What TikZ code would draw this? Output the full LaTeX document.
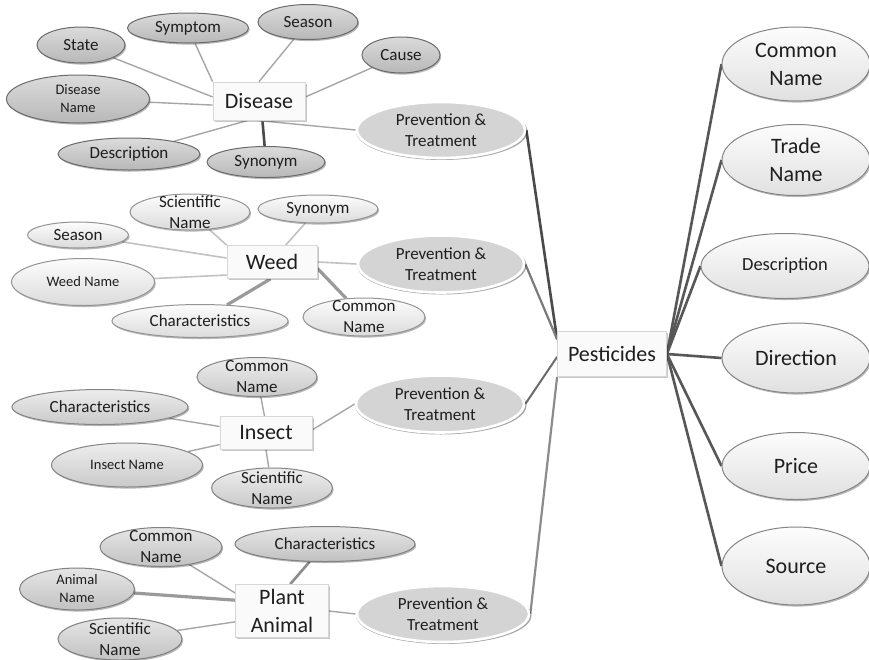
\documentclass[tikz,border=0pt]{standalone}
\usepackage{fontspec}
\setmainfont{Carlito}
\usetikzlibrary{shapes.geometric,shadows,backgrounds}

\definecolor{ink}{HTML}{1E1E1E}
\definecolor{boxline}{HTML}{D6D6D6}
\definecolor{ptfill}{HTML}{D4D4D4}
\definecolor{thin}{HTML}{A6A6A6}
\definecolor{mid}{HTML}{9A9A9A}
\definecolor{dark}{HTML}{4A4A4A}

% a filled ellipse of fixed size with its caption laid on top
\newcommand\bub[8]{%
  \node[#1,minimum width=#5,minimum height=#6] (#2) at (#3,#4) {};
  \node[txt,#7] (#2-t) at (#2) {#8};}

\begin{document}
\begin{tikzpicture}[x=1pt,y=-1pt,
  txt/.style={align=center,inner sep=0pt,text=ink},
  f14/.style={font=\fontsize{14.5}{18}\selectfont},
  f17/.style={font=\fontsize{17}{21}\selectfont},
  f18/.style={font=\fontsize{18.5}{23}\selectfont},
  f22/.style={font=\fontsize{22}{28}\selectfont},
  soft/.style={drop shadow={shadow xshift=1.2pt,shadow yshift=-1.6pt,opacity=.28,fill=black}},
  base/.style={ellipse,inner sep=0pt,line width=1pt,soft},
  dell/.style={base,top color=white!86!black,bottom color=white!72!black,draw=black!58},
  well/.style={base,top color=white!99!black,bottom color=white!86!black,draw=black!42},
  iell/.style={base,top color=white!93!black,bottom color=white!79!black,draw=black!48},
  pell/.style={base,top color=white!90!black,bottom color=white!76!black,draw=black!50},
  rell/.style={base,top color=white!99!black,bottom color=white!88!black,draw=black!48},
  ptell/.style={ellipse,inner sep=0pt,fill=ptfill,draw=white,line width=2.6pt,
    drop shadow={shadow xshift=0.8pt,shadow yshift=-1.4pt,opacity=.35,fill=black,shadow scale=1.02}},
  hub/.style={rectangle,fill=white!98!black,draw=boxline,line width=0.8pt,inner sep=0pt,
    text=ink,align=center,f22,
    drop shadow={shadow xshift=1.5pt,shadow yshift=-1.8pt,opacity=.22,fill=black}},
  lt/.style={draw=thin,line width=1.4pt},
  lw/.style={draw=black!24,line width=1.6pt},
  md/.style={draw=mid,line width=3.2pt},
  dk/.style={draw=dark,line width=2.6pt},
]
\useasboundingbox (0,0) rectangle (869,659);
\clip (0,0) rectangle (869,659);

% ---------- hubs ----------
\node[hub,minimum width=92,minimum height=38] (dis) at (259,101) {Disease};
\node[hub,minimum width=90,minimum height=33] (weed) at (272,262) {Weed};
\node[hub,minimum width=92,minimum height=33] (ins) at (266,433) {Insect};
\node[hub,minimum width=93,minimum height=53] (pla) at (282,611) {Plant\\Animal};
\node[hub,minimum width=109,minimum height=45] (pest) at (612,354) {Pesticides};

% ---------- disease attributes ----------
\bub{dell}{dstate}{81}{45}{88}{36}{f17}{State}
\bub{dell}{dsym}{188}{28}{121}{30}{f17}{Symptom}
\bub{dell}{dsea}{308}{22}{100}{35}{f17}{Season}
\bub{dell}{dcau}{401}{55}{78}{36}{f17}{Cause}
\bub{dell}{dname}{78}{99}{143}{48}{f14}{Disease\\Name}
\bub{dell}{ddesc}{129}{154}{142}{32}{f17}{Description}
\bub{dell}{dsyn}{266}{162}{118}{31}{f17}{Synonym}

% ---------- weed attributes ----------
\bub{well}{wsci}{190}{212}{120}{36}{f17}{Scientific\\Name}
\bub{well}{wsyn}{318}{209}{120}{28}{f17}{Synonym}
\bub{well}{wsea}{78}{235}{101}{26}{f17}{Season}
\bub{well}{wname}{83}{282}{143}{47}{f14}{Weed Name}
\bub{well}{wchar}{200}{321}{176}{33}{f17}{Characteristics}
\bub{well}{wcom}{364}{317}{122}{38}{f17}{Common\\Name}

% ---------- insect attributes ----------
\bub{iell}{icom}{257}{377}{120}{39}{f17}{Common\\Name}
\bub{iell}{ichar}{100}{407}{176}{35}{f17}{Characteristics}
\bub{iell}{iname}{127}{465}{151}{44}{f14}{Insect Name}
\bub{iell}{isci}{272}{488}{121}{40}{f17}{Scientific\\Name}

% ---------- plant / animal attributes ----------
\bub{pell}{pcom}{161}{547}{122}{39}{f17}{Common\\Name}
\bub{pell}{pchar}{325}{544}{180}{35}{f17}{Characteristics}
\bub{pell}{pname}{77}{589}{115}{42}{f14}{Animal\\Name}
\bub{pell}{psci}{120}{639}{124}{42}{f17}{Scientific\\Name}

% ---------- prevention & treatment ----------
\bub{ptell}{dpt}{441}{130}{168}{56}{f17}{Prevention \&\\Treatment}
\bub{ptell}{wpt}{441}{264}{166}{57}{f17}{Prevention \&\\Treatment}
\bub{ptell}{ipt}{440}{404}{168}{57}{f17}{Prevention \&\\Treatment}
\bub{ptell}{ppt}{443}{614}{172}{56}{f17}{Prevention \&\\Treatment}

% ---------- pesticide attributes ----------
\bub{rell}{rcom}{796}{64}{148}{74}{f22}{Common\\Name}
\bub{rell}{rtrade}{796}{160}{148}{71}{f22}{Trade\\Name}
\bub{rell}{rdesc}{785}{266}{168}{65}{f18}{Description}
\bub{rell}{rdir}{796}{358}{148}{70}{f22}{Direction}
\bub{rell}{rprice}{796}{466}{148}{67}{f22}{Price}
\bub{rell}{rsrc}{796}{566}{148}{78}{f22}{Source}

% ---------- connectors ----------
\begin{pgfonlayer}{background}
  \fill[white] (0,0) rectangle (869,659);
  % disease
  \draw[lt] (dstate) -- (dis.175);
  \draw[lt] (dname) -- (dis.185);
  \draw[lt] (dsym) -- (dis.north west);
  \draw[lt] (dsea) -- (dis.north);
  \draw[lt] (dcau) -- (dis.5);
  \draw[lt] (ddesc) -- (dis.240);
  \draw[dk] (dsyn) -- (dis.280);
  \draw[lt] (dis.265) -- (dpt.west);
  % weed
  \draw[lw] (wsci) -- (weed.north west);
  \draw[lw] (wsyn) -- (weed.51);
  \draw[lw] (wsea) -- (weed.175);
  \draw[lw] (wname) -- (weed.196);
  \draw[md] (wchar) -- (weed.265);
  \draw[md] (wcom) -- (weed.352);
  \draw[lw] (weed.east) -- (wpt.west);
  % insect
  \draw[lt] (icom) -- (ins.95);
  \draw[lt] (ichar) -- (ins.172);
  \draw[lt] (iname) -- (ins.194);
  \draw[lt] (isci) -- (ins.south);
  \draw[lt] (ins.4) -- (ipt.west);
  % plant / animal
  \draw[lt] (pcom) -- (pla.159);
  \draw[md] (pname) -- (pla.167);
  \draw[lt] (psci) -- (pla.193);
  \draw[draw=black!45,line width=2.6pt] (pchar) -- (pla.73);
  \draw[lt] (pla.east) -- (ppt.west);
  % into pesticides
  \draw[dk] (dpt.east) -- (pest.165);
  \draw[draw=black!52,line width=2.2pt] (wpt.east) -- (pest.165);
  \draw[draw=black!58,line width=2pt] (ipt.east) -- (pest.183);
  \draw[draw=black!45,line width=2.2pt] (ppt.east) -- (pest.south west);
  % out of pesticides
  \foreach \t in {rcom,rtrade,rdesc,rdir,rprice,rsrc}
    \draw[draw=black!66,line width=2.6pt] (pest.east) -- (\t.west);
\end{pgfonlayer}
\end{tikzpicture}
\end{document}
